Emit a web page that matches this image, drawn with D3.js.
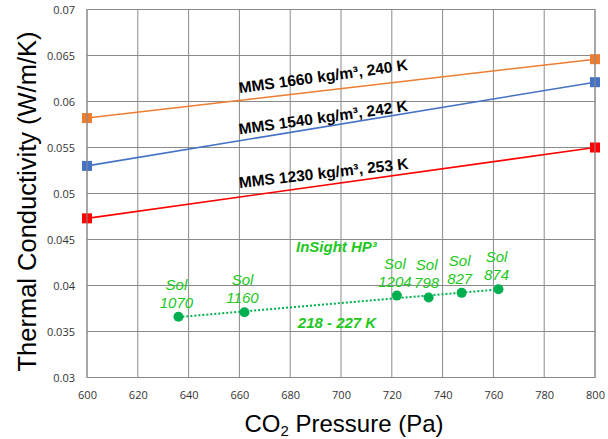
<!DOCTYPE html>
<html>
<head>
<meta charset="utf-8">
<script src="https://cdn.jsdelivr.net/npm/d3@7"></script>
<style>
  body { margin: 0; background: #fff; }
  svg { display: block; }
</style>
</head>
<body>
<div id="chart"></div>
<script>
// lab measurements, MMS simulant (two points each)
var mmsPressure = [600, 800];
var mms1660 = [0.0582, 0.0646];
var mms1540 = [0.0530, 0.0621];
var mms1230 = [0.0473, 0.0550];
var mmsNames = ["MMS 1660 kg/m\u00b3, 240 K", "MMS 1540 kg/m\u00b3, 242 K", "MMS 1230 kg/m\u00b3, 253 K"];

// InSight HP3 measurements
var solNames = ["1070", "1160", "1204", "798", "827", "874"];
var solPressure = [636, 662, 722, 734.5, 747.5, 762];
var solK = [0.0366, 0.0371, 0.0389, 0.0387, 0.0392, 0.0396];

var xTicks = [600, 620, 640, 660, 680, 700, 720, 740, 760, 780, 800];
var yTicks = [0.03, 0.035, 0.04, 0.045, 0.05, 0.055, 0.06, 0.065, 0.07];

var margin = {top: 9.5, right: 13, bottom: 61.5, left: 87},
    width = 608 - margin.left - margin.right,
    height = 439 - margin.top - margin.bottom;

var svg = d3.select("#chart")
  .append("svg")
    .attr("width", 608)
    .attr("height", 439)
  .append("g")
    .attr("transform", "translate(" + margin.left + "," + margin.top + ")");

var x = d3.scaleLinear().domain([600, 800]).range([0, width]);
var y = d3.scaleLinear().domain([0.03, 0.07]).range([height, 0]);

var gridColor = "#8a8a8a";
var tickFont = "'Open Sans', sans-serif";

// grid
svg.append("g")
  .selectAll("line.vg")
  .data(xTicks)
  .enter().append("line")
    .attr("x1", function (d) { return x(d); })
    .attr("x2", function (d) { return x(d); })
    .attr("y1", 0).attr("y2", height)
    .attr("stroke", gridColor).attr("stroke-width", 1);
svg.append("g")
  .selectAll("line.hg")
  .data(yTicks)
  .enter().append("line")
    .attr("y1", function (d) { return y(d); })
    .attr("y2", function (d) { return y(d); })
    .attr("x1", 0).attr("x2", width)
    .attr("stroke", gridColor).attr("stroke-width", 1);

// axes (labels only, grid does the lines)
var xAxis = svg.append("g")
  .attr("transform", "translate(0," + height + ")")
  .call(d3.axisBottom(x).tickValues(xTicks).tickSize(0).tickPadding(14).tickFormat(d3.format("d")));
var yAxis = svg.append("g")
  .call(d3.axisLeft(y).tickValues(yTicks).tickSize(0).tickPadding(12).tickFormat(function (d) { return +d.toFixed(3); }));
[xAxis, yAxis].forEach(function (a) {
  a.select(".domain").remove();
  a.selectAll("text").style("font-family", tickFont).style("font-size", "11px").attr("fill", "#333");
});

// MMS lines
var mmsSeries = [
  {vals: mms1660, color: "#ed7d31"},
  {vals: mms1540, color: "#4472c4"},
  {vals: mms1230, color: "#ff0000"}
];
var line = d3.line()
  .x(function (d) { return x(d[0]); })
  .y(function (d) { return y(d[1]); });

mmsSeries.forEach(function (s) {
  var pts = d3.zip(mmsPressure, s.vals);
  svg.append("path")
    .datum(pts)
    .attr("fill", "none")
    .attr("stroke", s.color)
    .attr("stroke-width", 1.6)
    .attr("d", line);
  svg.append("g")
    .selectAll("rect")
    .data(pts)
    .enter().append("rect")
      .attr("x", function (d) { return x(d[0]) - 5; })
      .attr("y", function (d) { return y(d[1]) - 5; })
      .attr("width", 10).attr("height", 10)
      .attr("fill", s.color);
});

// MMS labels
var mmsLabelPos = [[660, 0.0609, -7.8], [660, 0.0564, -8.0], [660, 0.0506, -6.5]];
mmsNames.forEach(function (name, i) {
  var p = mmsLabelPos[i];
  svg.append("text")
    .attr("transform", "translate(" + x(p[0]) + "," + y(p[1]) + ") rotate(" + p[2] + ")")
    .style("font-family", "'Liberation Sans', Arial, sans-serif")
    .style("font-size", "15.5px")
    .style("font-weight", "bold")
    .attr("fill", "#000")
    .text(name);
});

// InSight trend line (least squares fit)
var mx = d3.mean(solPressure), my = d3.mean(solK);
var sxy = d3.sum(solPressure, function (p, i) { return (p - mx) * (solK[i] - my); });
var sxx = d3.sum(solPressure, function (p) { return (p - mx) * (p - mx); });
var slope = sxy / sxx;
var ext = d3.extent(solPressure);
var fit = ext.map(function (p) { return [p, my + slope * (p - mx)]; });

var green = "#00b050";
var labelGreen = "#22c722";

svg.append("path")
  .datum(fit)
  .attr("fill", "none")
  .attr("stroke", green)
  .attr("stroke-width", 2)
  .attr("stroke-dasharray", "2,2")
  .attr("d", line);

var sols = d3.zip(solPressure, solK, solNames);
svg.append("g")
  .selectAll("circle")
  .data(sols)
  .enter().append("circle")
    .attr("cx", function (d) { return x(d[0]); })
    .attr("cy", function (d) { return y(d[1]); })
    .attr("r", 5)
    .attr("fill", green);

var solLab = svg.append("g")
  .selectAll("g")
  .data(sols)
  .enter().append("g")
    .attr("transform", function (d) { return "translate(" + (x(d[0]) - 2) + "," + y(d[1]) + ")"; })
    .style("font-family", "'Liberation Sans', Arial, sans-serif")
    .style("font-size", "15px")
    .style("font-style", "italic")
    .attr("fill", labelGreen)
    .attr("text-anchor", "middle");
solLab.append("text").attr("y", -27).text("Sol");
solLab.append("text").attr("y", -9).text(function (d) { return d[2]; });

svg.append("text")
  .attr("x", x(682.3)).attr("y", y(0.04365))
  .style("font-family", "'Liberation Sans', Arial, sans-serif")
  .style("font-size", "15px").style("font-weight", "bold").style("font-style", "italic")
  .attr("fill", labelGreen)
  .text("InSight HP\u00b3");

svg.append("text")
  .attr("x", x(683)).attr("y", y(0.0354))
  .style("font-family", "'Liberation Sans', Arial, sans-serif")
  .style("font-size", "15px").style("font-weight", "bold").style("font-style", "italic")
  .attr("fill", labelGreen)
  .text("218 - 227 K");

// axis titles
svg.append("text")
  .attr("transform", "translate(" + (36 - margin.left) + "," + (201.5 - margin.top) + ") rotate(-90)")
  .attr("text-anchor", "middle")
  .style("font-family", "'Liberation Sans', Arial, sans-serif")
  .style("font-size", "25.5px")
  .attr("fill", "#000")
  .text("Thermal Conductivity (W/m/K)");

var xt = svg.append("text")
  .attr("x", 344 - margin.left)
  .attr("y", 432 - margin.top)
  .attr("text-anchor", "middle")
  .style("font-family", "'Liberation Sans', Arial, sans-serif")
  .style("font-size", "24px")
  .attr("fill", "#000");
xt.append("tspan").text("CO");
xt.append("tspan").attr("dy", 4).style("font-size", "15px").text("2");
xt.append("tspan").attr("dy", -4).text(" Pressure (Pa)");

// plot border
svg.append("rect")
  .attr("width", width).attr("height", height)
  .attr("fill", "none").attr("stroke", gridColor).attr("stroke-width", 1);
</script>
</body>
</html>
